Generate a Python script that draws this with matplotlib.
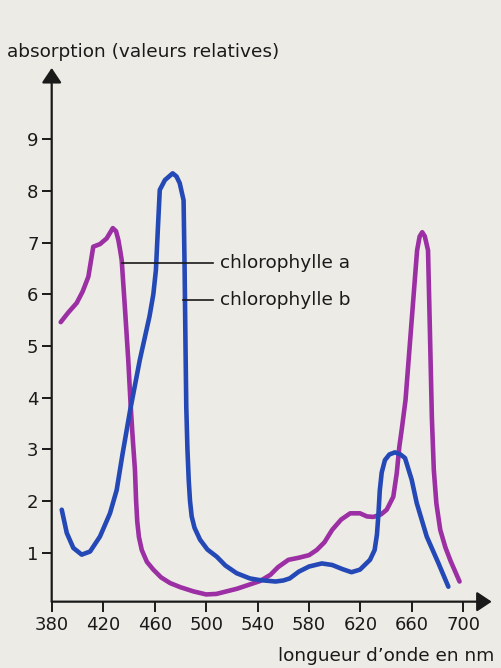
import matplotlib
matplotlib.use("Agg")
from matplotlib import pyplot as plt

# longueur d'onde (nm) / absorption relative
nm_a = [387, 393, 399.4, 404, 408.5, 412.3, 417.5, 422.7, 427.5, 430, 431.8, 433.2,
        434.4, 437, 439.5, 441.4, 443, 444.7, 445.6, 446.5, 447.8, 450, 454, 459, 465,
        472, 480, 490, 500, 508, 516, 524, 533, 542, 550, 556, 564, 572, 580, 586,
        592, 598, 605, 612, 619.6, 625, 630, 636, 640.4, 645.5, 648.2, 650.2, 652,
        655, 660, 664, 666, 668, 670, 672.5, 674, 675.5, 677, 679, 682, 686, 690, 697]
abs_a = [5.46, 5.65, 5.83, 6.05, 6.34, 6.92, 6.97, 7.08, 7.28, 7.22, 7.05, 6.85,
         6.66, 5.70, 4.73, 3.83, 3.2, 2.6, 2.0, 1.6, 1.3, 1.05, 0.82, 0.67, 0.52,
         0.41, 0.33, 0.25, 0.19, 0.2, 0.25, 0.3, 0.375, 0.45, 0.57, 0.72, 0.86, 0.9, 0.95, 1.05,
         1.2, 1.44, 1.64, 1.76, 1.76, 1.7, 1.69, 1.74, 1.83, 2.08, 2.54, 3.05, 3.37,
         3.95, 5.56, 6.85, 7.12, 7.2, 7.12, 6.85, 5.25, 3.6, 2.6, 1.95, 1.44, 1.1, 0.84, 0.44]

nm_b = [387.8, 391.7, 396.8, 403.3, 409.8, 417.5, 425.3, 430.5, 435, 441, 448.5, 456,
        459, 461, 462.6, 464, 468, 474, 477, 479.5, 482.5, 483.3, 484, 484.6, 485.5,
        486.5, 487.5, 488.8, 491, 495.3, 501, 508.3, 515, 523.8, 534, 541, 554, 560,
        565, 572, 580, 590, 598, 606, 613, 619.6, 627.4, 631, 632.8, 634, 635, 636.5,
        639, 642.5, 646.8, 651, 654.6, 659.8, 663.7, 671.5, 680.5, 688.3]
abs_b = [1.83, 1.38, 1.09, 0.96, 1.02, 1.31, 1.76, 2.21, 2.9, 3.76, 4.73, 5.57,
         6.0, 6.47, 7.31, 8.02, 8.21, 8.34, 8.28, 8.15, 7.82, 6.5, 5.0, 3.82, 3.0,
         2.4, 2.0, 1.7, 1.48, 1.25, 1.06, 0.92, 0.75, 0.60, 0.5, 0.47, 0.44, 0.46,
         0.50, 0.63, 0.73, 0.79, 0.76, 0.68, 0.62, 0.67, 0.86, 1.05, 1.35, 1.76, 2.2, 2.55,
         2.79, 2.9, 2.94, 2.9, 2.83, 2.41, 1.96, 1.31, 0.80, 0.34]

x_ticks = [380, 420, 460, 500, 540, 580, 620, 660, 700]
y_ticks = [1, 2, 3, 4, 5, 6, 7, 8, 9]

bg = "#ecebe5"
purple = "#9b2fa3"
blue = "#2449b7"
ink = "#1a1a1a"

plt.rcParams["font.family"] = ["DejaVu Sans"]

fig = plt.figure(figsize=(5.02, 6.68), dpi=100, facecolor=bg)
ax = fig.add_axes([0.103, 0.0993, 0.8765, 0.799], facecolor=bg)

ax.plot(nm_a, abs_a, color=purple, lw=3.3, solid_joinstyle="round", solid_capstyle="round")
ax.plot(nm_b, abs_b, color=blue, lw=3.3, solid_joinstyle="round", solid_capstyle="round")

ax.set_xlim(380, 722)
ax.set_ylim(0.05, 10.38)

for s in ax.spines.values():
    s.set_visible(False)

# axes with arrow heads
arrow = dict(arrowstyle="-|>,head_length=0.45,head_width=0.3", lw=1.6,
             color=ink, shrinkA=0, shrinkB=0, mutation_scale=20)
ax.annotate("", xy=(1, 0), xytext=(0, 0), xycoords="axes fraction", arrowprops=arrow)
ax.annotate("", xy=(0, 1), xytext=(0, 0), xycoords="axes fraction", arrowprops=arrow)

ax.set_xticks(x_ticks)
ax.set_yticks(y_ticks)
ax.tick_params(axis="both", length=7, width=1.4, color=ink, labelsize=13, labelcolor=ink)
ax.tick_params(axis="x", pad=3)
ax.tick_params(axis="y", pad=2.5)

# leader lines and labels
ax.plot([434.4, 505.4], [6.61, 6.61], color=ink, lw=1.2)
ax.plot([482.3, 505.4], [5.89, 5.89], color=ink, lw=1.2)
ax.text(510.8, 6.61, "chlorophylle a", fontsize=13.3, color=ink, va="center", ha="left")
ax.text(510.8, 5.89, "chlorophylle b", fontsize=13.3, color=ink, va="center", ha="left")

fig.text(7 / 502, 1 - 52 / 668, "absorption (valeurs relatives)", fontsize=13.3,
         color=ink, va="center", ha="left")
fig.text(494 / 502, 1 - 656 / 668, "longueur d\u2019onde en nm", fontsize=13.3,
         color=ink, va="center", ha="right")

fig.savefig("out.png", dpi=100, facecolor=bg)
